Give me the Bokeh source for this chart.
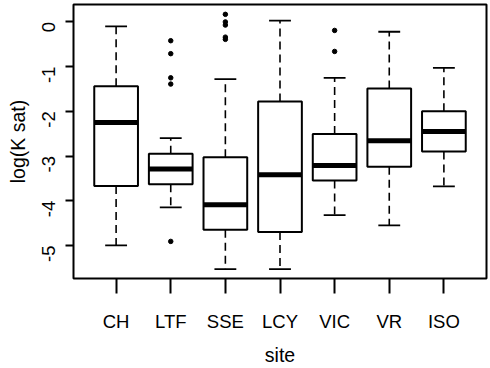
import math
from bokeh.plotting import figure
from bokeh.models import Range1d, FixedTicker, ColumnDataSource
from bokeh.embed import file_html
from bokeh.resources import INLINE

# Box-plot summaries of log saturated hydraulic conductivity per site
sites = ["CH", "LTF", "SSE", "LCY", "VIC", "VR", "ISO"]
whisker_low = [-5.00, -4.15, -5.53, -5.53, -4.32, -4.55, -3.68]
q1 = [-3.67, -3.63, -4.65, -4.70, -3.55, -3.24, -2.90]
median = [-2.25, -3.29, -4.09, -3.42, -3.21, -2.66, -2.45]
q3 = [-1.44, -2.95, -3.03, -1.78, -2.51, -1.49, -2.00]
whisker_high = [-0.10, -2.60, -1.28, 0.03, -1.25, -0.22, -1.03]

# Points beyond the whiskers
outlier_site = ["LTF"] * 5 + ["SSE"] * 5 + ["VIC"] * 2
outlier_value = [-0.42, -0.71, -1.25, -1.39, -4.91,
                 0.17, 0.00, -0.07, -0.34, -0.39,
                 -0.19, -0.66]

y_ticks = [0, -1, -2, -3, -4, -5]

FONT = "Liberation Sans"
xpos = list(range(1, len(sites) + 1))
box_half = 0.4
cap_half = 0.2

src = ColumnDataSource(dict(
    x=xpos,
    left=[x - box_half for x in xpos],
    right=[x + box_half for x in xpos],
    cap_l=[x - cap_half for x in xpos],
    cap_r=[x + cap_half for x in xpos],
    lo=whisker_low, q1=q1, med=median, q3=q3, hi=whisker_high,
))

p = figure(width=490, height=368, output_backend="svg", toolbar_location=None,
           x_range=Range1d(0.22, 7.78), y_range=Range1d(-5.74, 0.39),
           min_border_left=73, min_border_right=4, min_border_top=4,
           min_border_bottom=83)
p.background_fill_color = "white"
p.border_fill_color = "white"
p.outline_line_color = "black"
p.outline_line_width = 2
p.xgrid.visible = False
p.ygrid.visible = False

# whiskers
p.segment(x0="x", x1="x", y0="q3", y1="hi", source=src, line_color="black",
          line_width=1.6, line_dash="8 5")
p.segment(x0="x", x1="x", y0="q1", y1="lo", source=src, line_color="black",
          line_width=1.6, line_dash="8 5")
# staples
p.segment(x0="cap_l", x1="cap_r", y0="hi", y1="hi", source=src,
          line_color="black", line_width=1.8)
p.segment(x0="cap_l", x1="cap_r", y0="lo", y1="lo", source=src,
          line_color="black", line_width=1.8)
# boxes
p.quad(left="left", right="right", bottom="q1", top="q3", source=src,
       fill_color="white", line_color="black", line_width=2)
# medians
p.segment(x0="left", x1="right", y0="med", y1="med", source=src,
          line_color="black", line_width=5, line_cap="butt")

# outliers
ox = [sites.index(s) + 1 for s in outlier_site]
p.scatter(ox, outlier_value, size=4.5, marker="circle", color="black")

# axes
p.xaxis.ticker = FixedTicker(ticks=xpos)
p.xaxis.major_label_overrides = {x: s for x, s in zip(xpos, sites)}
p.yaxis.ticker = FixedTicker(ticks=y_ticks)
p.yaxis.major_label_overrides = {v: str(v) for v in y_ticks}
p.yaxis.major_label_orientation = math.pi / 2

for ax in (p.xaxis[0], p.yaxis[0]):
    ax.axis_line_color = None
    ax.minor_tick_line_color = None
    ax.major_tick_in = 0
    ax.major_tick_line_color = "black"
    ax.major_tick_line_width = 2
    ax.major_label_text_font = FONT
    ax.major_label_text_font_size = "18.5px"
    ax.major_label_text_color = "black"
    ax.axis_label_text_font = FONT
    ax.axis_label_text_font_size = "19.5px"
    ax.axis_label_text_font_style = "normal"
    ax.axis_label_text_color = "black"

p.xaxis.major_tick_out = 15
p.xaxis.major_label_standoff = 17
p.xaxis.axis_label = "site"
p.xaxis.axis_label_standoff = 9

p.yaxis.major_tick_out = 8
p.yaxis.major_label_standoff = 17
p.yaxis.axis_label = "log(K sat)"
p.yaxis.axis_label_standoff = 4

open("out.html", "w").write(file_html(p, INLINE))
